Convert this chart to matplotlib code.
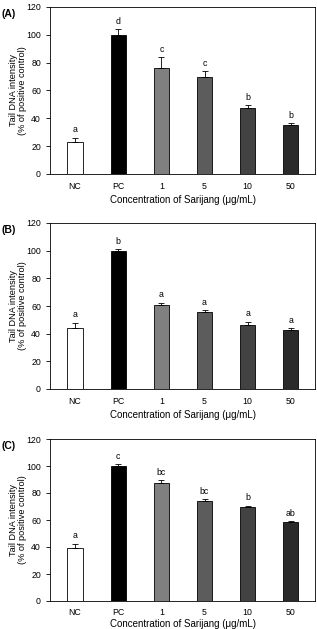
import matplotlib
matplotlib.use("Agg")
import matplotlib.pyplot as plt
import numpy as np

plt.rcParams['font.family'] = ['Liberation Sans', 'DejaVu Sans']

categories = ["NC", "PC", "1", "5", "10", "50"]
bar_colors = ["#ffffff", "#000000", "#808080", "#5c5c5c", "#424242", "#2a2a2a"]

vals_A = [23, 100, 76, 70, 47.5, 35.5]
err_A = [3, 4, 8, 3.8, 2, 1]
let_A = ["a", "d", "c", "c", "b", "b"]

vals_B = [44, 100, 61, 56, 46.5, 43]
err_B = [4, 1.2, 1.5, 0.8, 2, 0.8]
let_B = ["a", "b", "a", "a", "a", "a"]

vals_C = [39.5, 100, 87.5, 74, 70, 58.5]
err_C = [3, 1.5, 2, 1.5, 0.5, 0.7]
let_C = ["a", "c", "bc", "bc", "b", "ab"]

panels = [("(A)", vals_A, err_A, let_A, 7, 174, 3, 6),
          ("(B)", vals_B, err_B, let_B, 223, 389, 3, 6),
          ("(C)", vals_C, err_C, let_C, 439, 601, 1.5, 5)]

W, H = 317, 629
fig = plt.figure(figsize=(W / 100, H / 100), dpi=100)
fs = 6.3

for lab, vals, errs, lets, top, bot, lp, tp in panels:
    left, right = 50, 315
    ax = fig.add_axes([left / W, 1 - bot / H, (right - left) / W, (bot - top) / H])
    x = np.arange(len(categories))
    ax.bar(x, vals, width=0.35, color=bar_colors, edgecolor="black", linewidth=0.6, zorder=2)
    ax.errorbar(x, vals, yerr=[np.zeros(len(vals)), errs], fmt="none", ecolor="black",
                elinewidth=0.6, capsize=2.5, capthick=0.6, zorder=3)
    for xi, v, e, t in zip(x, vals, errs, lets):
        ax.text(xi, v + e + 2.5, t, ha="center", va="bottom", fontsize=fs)
    ax.set_xlim(-0.58, 5.56)
    ax.set_ylim(0, 120)
    ax.set_yticks(np.arange(0, 121, 20))
    ax.set_xticks(x)
    ax.set_xticklabels(categories)
    ax.tick_params(axis="both", labelsize=fs, direction="out", width=0.6, length=3)
    ax.tick_params(axis="x", length=0, pad=tp)
    for s in ax.spines.values():
        s.set_linewidth(0.6)
    ax.set_xlabel("Concentration of Sarijang (μg/mL)", fontsize=7, labelpad=lp)
    ax.set_ylabel("Tail DNA intensity\n(% of positive control)", fontsize=6.6, linespacing=1.1)
    ax.yaxis.set_label_coords(-0.085, 0.5)
    fig.text(1 / W, 1 - (top + 7) / H, lab, fontsize=7.5, fontweight="bold", va="center", ha="left")

fig.savefig("out.png", dpi=100)
